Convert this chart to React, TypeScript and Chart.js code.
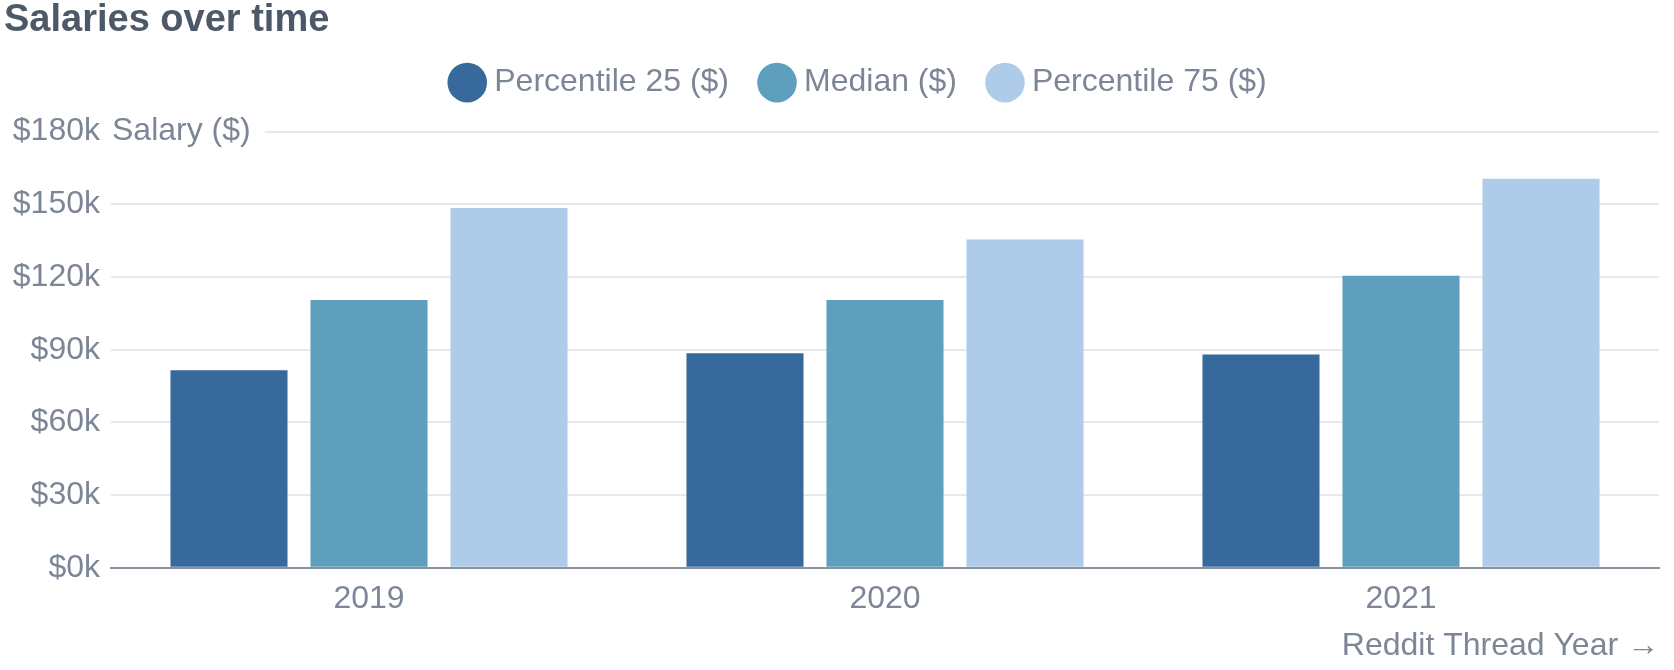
import { useEffect, useRef } from 'react';
import { Chart, registerables } from 'chart.js';

Chart.register(...registerables);

// ---- data ----
const CATEGORIES = ['2019', '2020', '2021'];
const P25 = [81500, 88500, 88000];
const MEDIAN = [110500, 110500, 120500];
const P75 = [148500, 135500, 160500];
const SERIES_LABELS = ['Percentile 25 ($)', 'Median ($)', 'Percentile 75 ($)'];
const Y_MAX = 180000;
const Y_STEP = 30000;
const TITLE = 'Salaries over time';
const Y_TITLE = 'Salary ($)';
const X_TITLE = 'Reddit Thread Year →';

// ---- style ----
const FONT = "'Liberation Sans', Arial, Helvetica, sans-serif";
const COLORS = ['#37699c', '#5d9fbc', '#aecbea'];
const TEXT = '#7d8697';
const TITLE_COLOR = '#4d5969';
const GRID = '#e7e8ee';
const AXIS = '#8a92a0';
const LEGEND_SHIFT = 30;

const yTitlePlugin = {
  id: 'yTopTitle',
  afterDraw(chart: any) {
    const { ctx, chartArea } = chart;
    const y = chart.scales.y;
    const py = y.getPixelForValue(y.max);
    ctx.save();
    ctx.font = `32px ${FONT}`;
    const w = ctx.measureText(Y_TITLE).width;
    ctx.fillStyle = '#ffffff';
    ctx.fillRect(chartArea.left, py - 4, w + 15, 8);
    ctx.fillStyle = TEXT;
    ctx.textAlign = 'left';
    ctx.textBaseline = 'middle';
    ctx.fillText(Y_TITLE, chartArea.left + 1, py);
    ctx.restore();
  },
};

const legendShiftPlugin = {
  id: 'legendShift',
  afterLayout(chart: any) {
    const lg = chart.legend;
    if (lg) {
      lg.left += LEGEND_SHIFT;
      lg.right += LEGEND_SHIFT;
    }
  },
};

export default function App() {
  const ref = useRef<HTMLCanvasElement | null>(null);

  useEffect(() => {
    document.body.style.margin = '0';
    const canvas = ref.current;
    if (!canvas) return;
    const seriesValues = [P25, MEDIAN, P75];
    const chart = new Chart(canvas, {
      type: 'bar',
      data: {
        labels: CATEGORIES,
        datasets: seriesValues.map((vals, i) => ({
          label: SERIES_LABELS[i],
          data: vals,
          backgroundColor: COLORS[i],
          borderWidth: 0,
          categoryPercentage: 0.814,
          barPercentage: 0.836,
        })),
      },
      options: {
        responsive: false,
        devicePixelRatio: 1,
        animation: false,
        layout: { padding: { top: 0, left: 4, right: 15, bottom: 5 } },
        plugins: {
          title: {
            display: true,
            text: TITLE,
            align: 'start',
            color: TITLE_COLOR,
            font: { family: FONT, size: 38, weight: 'bold', lineHeight: 1.2 },
            padding: { top: -1.8, bottom: -14.2 },
          },
          subtitle: {
            display: true,
            text: ' ',
            weight: 500,
            font: { family: FONT, size: 23, lineHeight: 1 },
            padding: 0,
          } as any,
          legend: {
            display: true,
            position: 'top',
            labels: {
              usePointStyle: true,
              pointStyle: 'circle',
              boxWidth: 22,
              boxHeight: 28,
              padding: 37,
              color: TEXT,
              font: { family: FONT, size: 32 },
            },
          },
          tooltip: { enabled: false },
        },
        scales: {
          x: {
            grid: { display: false, drawTicks: false },
            border: { display: true, color: AXIS, width: 2 },
            ticks: { color: TEXT, font: { family: FONT, size: 32 }, padding: 12 },
            title: {
              display: true,
              text: X_TITLE,
              align: 'end',
              color: TEXT,
              font: { family: FONT, size: 32, lineHeight: 1.2 },
              padding: { top: -3.6, bottom: 0 },
            },
          },
          y: {
            min: 0,
            max: Y_MAX,
            afterFit: (scale: any) => {
              scale.width = 107;
            },
            grid: {
              drawTicks: false,
              lineWidth: 2,
              color: (c: any) => (c.tick && c.tick.value === 0 ? 'rgba(0,0,0,0)' : GRID),
            },
            border: { display: false },
            ticks: {
              stepSize: Y_STEP,
              color: TEXT,
              padding: 11,
              font: { family: FONT, size: 32 },
              callback: (v: any) => `$${Number(v) / 1000}k`,
            },
          },
        },
      },
      plugins: [yTitlePlugin, legendShiftPlugin],
    });
    return () => chart.destroy();
  }, []);

  return (
    <div style={{ width: 1674, height: 670 }}>
      <canvas ref={ref} width={1674} height={670} />
    </div>
  );
}
